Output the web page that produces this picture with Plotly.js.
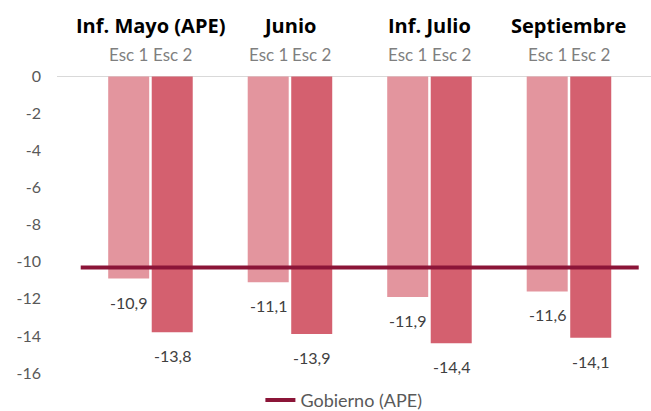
<!DOCTYPE html>
<html><head><meta charset="utf-8">
<script src="https://cdn.plot.ly/plotly-3.0.1.min.js"></script>
<style>html,body{margin:0;padding:0;background:#fff}#chart{width:651px;height:411px}</style>
</head><body><div id="chart"></div>
<script>
const categories = ['Inf. Mayo (APE)', 'Junio', 'Inf. Julio', 'Septiembre'];
const seriesNames = ['Esc 1', 'Esc 2'];
const esc1 = [-10.9, -11.1, -11.9, -11.6];
const esc2 = [-13.8, -13.9, -14.4, -14.1];
const gobiernoName = 'Gobierno (APE)';
const gobierno = -10.3;
const yTickVals = [0, -2, -4, -6, -8, -10, -12, -14, -16];
const yTickText = ['0', '-2', '-4', '-6', '-8', '-10', '-12', '-14', '-16'];

const FONT = 'Lato, "Open Sans", sans-serif';
const colors = ['#E3959E', '#D4606F'];
const idx = categories.map((c, i) => i);
const fmt = v => v.toFixed(1).replace('.', ',');

const bargap = 0.376, bargroupgap = 0.058;
const slot = (1 - bargap) / 2;
const offsets = [-slot / 2, slot / 2];

const traces = [esc1, esc2].map((vals, s) => ({
  type: 'bar', x: idx, y: vals, name: seriesNames[s],
  marker: {color: colors[s]}, showlegend: false, hoverinfo: 'none'
}));
traces.push({
  type: 'scatter', mode: 'lines',
  x: [-0.5, categories.length - 0.5], y: [gobierno, gobierno],
  name: gobiernoName, line: {color: '#8B1538', width: 4}, hoverinfo: 'none'
});

const annotations = [];
categories.forEach((c, i) => {
  annotations.push({xref: 'x', yref: 'paper', x: i, y: 1.152, yanchor: 'middle', xanchor: 'center',
    text: '<b>' + c + '</b>', showarrow: false, font: {family: '"Open Sans", Lato, sans-serif', size: 20, color: '#000', weight: 800}});
  [esc1, esc2].forEach((vals, s) => {
    annotations.push({xref: 'x', yref: 'paper', x: i + offsets[s], y: 1.055, yanchor: 'middle', xanchor: 'center',
      text: seriesNames[s], showarrow: false, font: {family: FONT, size: 17, color: '#7F7F7F'}});
    annotations.push({xref: 'x', yref: 'y', x: i + offsets[s], y: vals[i], yanchor: 'top', xanchor: 'center',
      yshift: -12, text: fmt(vals[i]), showarrow: false, font: {family: FONT, size: 16, color: '#404040'}});
  });
});

const layout = {
  width: 651, height: 411,
  margin: {l: 57, r: 0, t: 71, b: 38, autoexpand: false},
  paper_bgcolor: '#fff', plot_bgcolor: '#fff',
  barmode: 'group', bargap: bargap, bargroupgap: bargroupgap,
  font: {family: FONT, size: 16, color: '#595959'},
  xaxis: {type: 'linear', range: [-0.67, 3.588], showticklabels: false, showgrid: false,
    zeroline: false, showline: false, fixedrange: true},
  yaxis: {range: [-16, 0.3], tickvals: yTickVals, ticktext: yTickText, showgrid: false,
    zeroline: true, zerolinecolor: '#D9D9D9', zerolinewidth: 1.5, showline: false,
    ticks: '', ticklabelstandoff: 15, tickfont: {family: FONT, size: 16, color: '#595959'}},
  showlegend: true,
  legend: {orientation: 'h', x: 0.483, xanchor: 'center', y: -0.09, yanchor: 'middle',
    font: {family: FONT, size: 18, color: '#595959'}, bgcolor: 'rgba(0,0,0,0)'},
  annotations: annotations
};

Plotly.newPlot('chart', traces, layout, {displayModeBar: false, staticPlot: true});
</script></body></html>
